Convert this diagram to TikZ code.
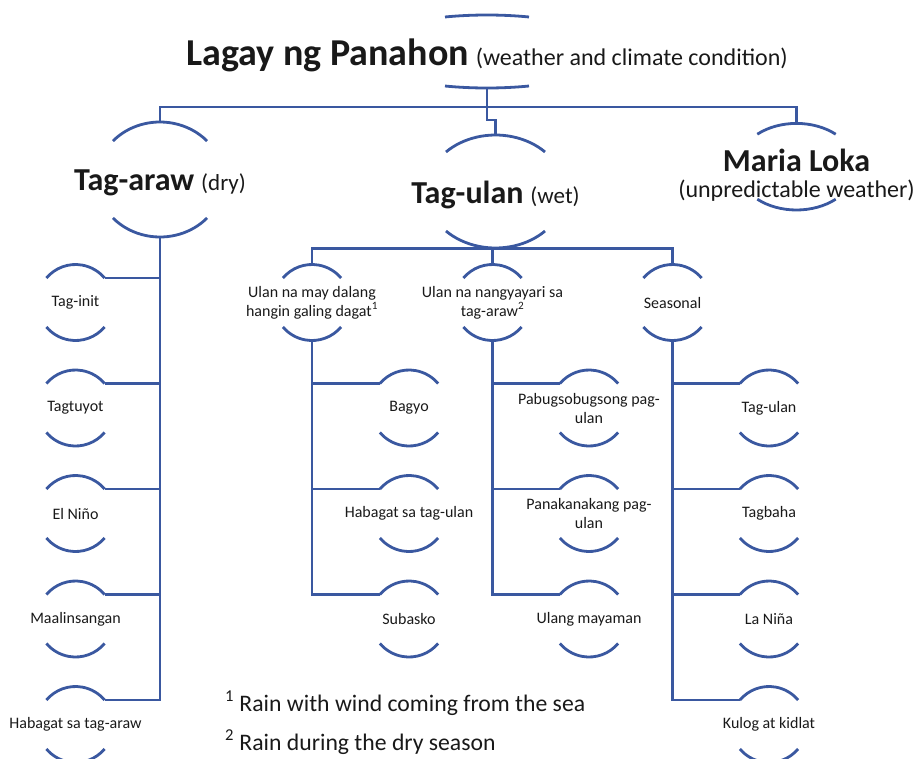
\documentclass[tikz,border=0pt]{standalone}
\usepackage{fontspec}
\setmainfont{Carlito}
\usetikzlibrary{shapes.geometric}
\definecolor{linkblue}{RGB}{58,88,160}
\begin{document}
\begin{tikzpicture}[x=1pt, y=1pt, yscale=-1,
    conn/.style={draw=linkblue, line width=2.8pt},
    arcline/.style={draw=linkblue, line width=2.8pt},
    sbub/.style={circle, minimum size=76pt, inner sep=0pt},
    bbub/.style={ellipse, inner sep=0pt},
    lbl/.style={font=\fontsize{16}{19}\selectfont, align=center, text=black!90},
    foot/.style={font=\fontsize{23.7}{29}\selectfont, inner sep=0pt, text=black!90}]
  \useasboundingbox (0,0) rectangle (915,758);
  % big bubbles
  \node[bbub, minimum width=258pt, minimum height=73pt,
        label={[text=black!90, yshift=-4pt]center:{\fontsize{38}{44}\selectfont\bfseries Lagay ng Panahon}\hspace{7pt}{\fontsize{24}{29}\selectfont(weather and climate condition)}}]
        (panahon) at (487,51.5) {};
  \node[bbub, minimum width=126.6pt, minimum height=115pt,
        label={[text=black!90, yshift=-3pt]center:{\fontsize{32}{37}\selectfont\bfseries Tag-araw}\hspace{7pt}{\fontsize{23}{28}\selectfont(dry)}}]
        (araw) at (160,179.5) {};
  \node[bbub, minimum width=138.6pt, minimum height=113pt,
        label={[text=black!90, yshift=-3pt]center:{\fontsize{32}{37}\selectfont\bfseries Tag-ulan}\hspace{7pt}{\fontsize{23}{28}\selectfont(wet)}}]
        (ulan) at (495.5,191.5) {};
  \node[bbub, minimum width=118.6pt, minimum height=86.6pt,
        label={[text=black!90, align=center, font=\fontsize{24}{26}\selectfont, yshift=-9pt]center:{\fontsize{32}{26}\selectfont\bfseries Maria Loka}\\(unpredictable weather)}]
        (loka) at (796.5,166.7) {};
  \foreach \n/\rx/\ry/\a in {panahon/129/36.5/71, araw/63.3/57.5/42,
                             ulan/69.3/56.5/44.4, loka/59.3/43.3/48.6}{
    \draw[arcline] (\n.center) ++({180+\a}:{\rx} and {\ry})
          arc[start angle=180+\a, end angle=360-\a, x radius=\rx, y radius=\ry];
    \draw[arcline] (\n.center) ++(\a:{\rx} and {\ry})
          arc[start angle=\a, end angle=180-\a, x radius=\rx, y radius=\ry];
  }
  % small bubbles
  \foreach \n/\x/\y/\txt in {
      tinit/75.5/302.5/Tag-init, ttuyot/75.5/408/Tagtuyot, nino/75.5/513.5/El Niño,
      maal/75.5/619/Maalinsangan, hstaraw/75.5/724.5/Habagat sa tag-araw,
      hangin/312/302.5/{Ulan na may dalang\\hangin galing dagat\textsuperscript{1}},
      bagyo/409/408/Bagyo, hstulan/409/513.5/Habagat sa tag-ulan, subasko/409/619/Subasko,
      tagaraw2/492.5/302.5/{Ulan na nangyayari sa\\tag-araw\textsuperscript{2}},
      pabugso/589/408/{Pabugsobugsong pag-\\ulan}, panaka/589/513.5/{Panakanakang pag-\\ulan},
      mayaman/589/619/Ulang mayaman,
      seasonal/672.5/302.5/Seasonal,
      tulan/769/408/Tag-ulan, tagbaha/769/513.5/Tagbaha, nina/769/619/La Niña,
      kulog/769/724.5/Kulog at kidlat}{
    \node[sbub, label={[lbl]center:\txt}] (\n) at (\x,\y) {};
    \draw[arcline] (\n.center) ++(220:38) arc[start angle=220, end angle=320, radius=38];
    \draw[arcline] (\n.center) ++(40:38) arc[start angle=40, end angle=140, radius=38];
  }
  % connectors
  \coordinate (bus) at (487,107);
  \draw[conn] (panahon.south) -- (bus) -| (araw.north);
  \draw[conn] (bus) -| (loka.north);
  \draw[conn] (bus) -- ++(0,13) -| (ulan.north);
  \draw[conn] (ulan.south) -| (hangin.north);
  \draw[conn] (ulan.south) -| (tagaraw2.north);
  \draw[conn] (ulan.south) -| (seasonal.north);
  \foreach \n in {tinit,ttuyot,nino,maal,hstaraw}
    \draw[conn] (araw.south) |- (\n.40);
  \foreach \n in {bagyo,hstulan,subasko}
    \draw[conn] (hangin.south) |- (\n.140);
  \foreach \n in {pabugso,panaka,mayaman}
    \draw[conn] (tagaraw2.south) |- (\n.140);
  \foreach \n in {tulan,tagbaha,nina,kulog}
    \draw[conn] (seasonal.south) |- (\n.140);
  % footnotes
  \node[foot, anchor=base west] (fn1) at (225,711) {\textsuperscript{1} Rain with wind coming from the sea};
  \node[foot, anchor=base west] (fn2) at (225,750) {\textsuperscript{2} Rain during the dry season};
\end{tikzpicture}
\end{document}
